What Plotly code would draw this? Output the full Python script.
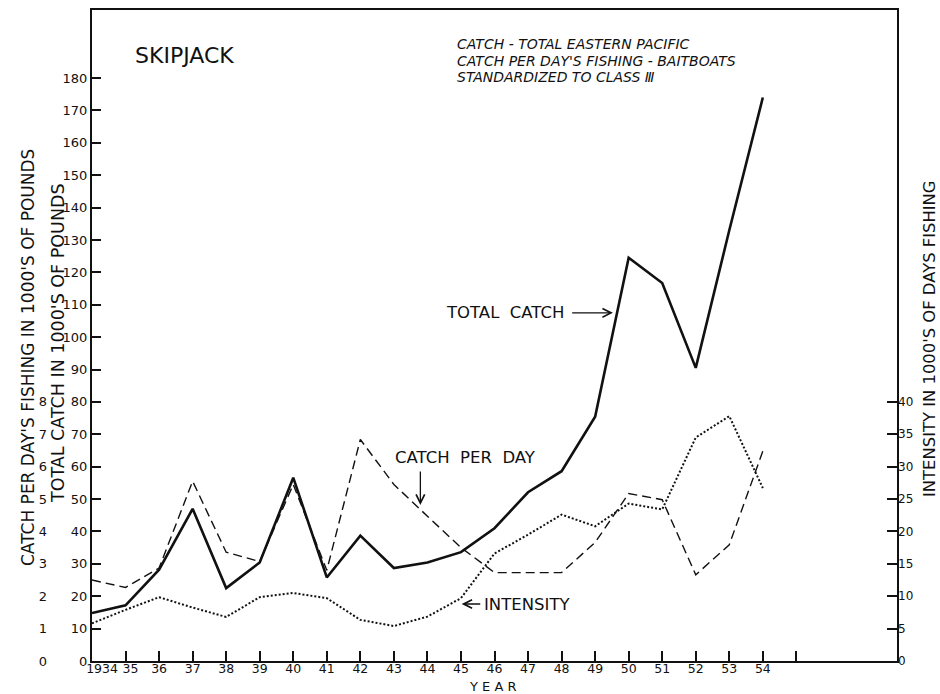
import plotly.graph_objects as go

# ---- data -------------------------------------------------------------
years = list(range(1934, 1955))

# total eastern Pacific skipjack catch, 1000's of pounds
total_catch = [14.8, 17.2, 28.2, 47.0, 22.5, 30.4, 56.6, 25.8, 38.7, 28.7,
               30.4, 33.6, 41.0, 52.1, 58.6, 75.4, 124.5, 116.7, 90.5, 133.0,
               174.0]

# catch per day's fishing (baitboats, standardized to class III), 1000's of pounds
catch_per_day = [2.50, 2.27, 2.87, 5.55, 3.36, 3.07, 5.45, 2.80, 6.84, 5.45,
                 4.47, 3.50, 2.73, 2.73, 2.73, 3.66, 5.17, 4.98, 2.66, 3.59,
                 6.48]

# fishing intensity, 1000's of days fishing
intensity = [5.8, 7.9, 9.85, 8.25, 6.8, 9.85, 10.5, 9.7, 6.35, 5.4,
             6.85, 9.7, 16.6, 19.5, 22.6, 20.8, 24.3, 23.4, 34.5, 37.8,
             26.7]

year_ticks = list(range(1934, 1956))
year_labels = ["1934"] + [str(y)[2:] for y in range(1935, 1955)]
# the first two year labels sit a little right of their ticks, clear of the origin
year_label_pos = [1934.3, 1935.15] + list(range(1936, 1955))
catch_ticks = list(range(0, 181, 10))
cpd_ticks = list(range(0, 9))
intensity_ticks = list(range(0, 41, 5))

FONT = "DejaVu Sans"
INK = "#111111"

fig = go.Figure()

fig.add_trace(go.Scatter(
    x=years, y=total_catch, mode="lines", yaxis="y",
    line=dict(color=INK, width=2.6), hoverinfo="skip"))
fig.add_trace(go.Scatter(
    x=years, y=catch_per_day, mode="lines", yaxis="y2",
    line=dict(color=INK, width=1.4, dash="9px,5px"), hoverinfo="skip"))
fig.add_trace(go.Scatter(
    x=years, y=intensity, mode="lines", yaxis="y3",
    line=dict(color=INK, width=2.0, dash="2px,2px"), hoverinfo="skip"))
# empty trace that brings the year-label axis into being
fig.add_trace(go.Scatter(
    x=[], y=[], xaxis="x2", yaxis="y", mode="lines", hoverinfo="skip"))

W, H = 940, 694
ML, MR, MT, MB = 20, 43, 10, 33
PW = W - ML - MR
PH = H - MT - MB


def px(xp):
    return (xp - ML) / PW


def py(yp):
    return (H - MB - yp) / PH


XRANGE = [1934, 1958]

fig.update_layout(
    template="none",
    width=W, height=H,
    margin=dict(l=ML, r=MR, t=MT, b=MB, pad=0, autoexpand=False),
    paper_bgcolor="white", plot_bgcolor="white",
    showlegend=False,
    font=dict(family=FONT, color=INK),
    xaxis=dict(
        domain=[px(92), 1], range=XRANGE, automargin=False,
        tickvals=year_ticks, showticklabels=False,
        ticks="inside", ticklen=10, tickwidth=1.5, tickcolor=INK,
        showline=True, linewidth=2.2, linecolor=INK, mirror=True,
        showgrid=False, zeroline=False),
    # label-only axis for the year numbers
    xaxis2=dict(
        overlaying="x", anchor="y", side="bottom", range=XRANGE,
        automargin=False, tickvals=year_label_pos, ticktext=year_labels,
        ticks="", showline=False, showgrid=False, zeroline=False,
        ticklabelstandoff=-2,
        tickfont=dict(size=12.5, family=FONT, color=INK)),
    yaxis=dict(
        range=[0, 201], tickvals=catch_ticks, automargin=False,
        ticks="inside", ticklen=9, tickwidth=1.8, tickcolor=INK,
        ticklabelstandoff=0,
        showline=True, linewidth=2.2, linecolor=INK, mirror=True,
        showgrid=False, zeroline=False,
        tickfont=dict(size=13, family=FONT, color=INK)),
    yaxis2=dict(
        range=[0, 20.1], tickvals=cpd_ticks, overlaying="y",
        anchor="free", position=px(47), side="left", automargin=False,
        ticks="", showline=False, showgrid=False, zeroline=False,
        tickfont=dict(size=13, family=FONT, color=INK)),
    yaxis3=dict(
        range=[0, 100.5], tickvals=intensity_ticks, overlaying="y",
        anchor="x", side="right", automargin=False,
        ticks="inside", ticklen=10, tickwidth=1.5, tickcolor=INK,
        showline=False, showgrid=False, zeroline=False,
        tickfont=dict(size=12, family=FONT, color=INK)),
)

ann = []
# axis titles
ann.append(dict(text="CATCH PER DAY'S FISHING IN 1000'S OF POUNDS",
                x=px(28), y=py(358), textangle=-90,
                font=dict(size=17)))
ann.append(dict(text="TOTAL CATCH IN 1000'S OF POUNDS",
                x=px(58), y=py(343), textangle=-90,
                font=dict(size=17.5)))
ann.append(dict(text="INTENSITY IN 1000'S OF DAYS FISHING",
                x=px(929), y=py(338), textangle=-90,
                font=dict(size=16.4)))
ann.append(dict(text="Y E A R", x=px(492), y=py(686.5), font=dict(size=13)))
for a in ann:
    a.update(xref="paper", yref="paper", showarrow=False,
             xanchor="center", yanchor="middle")

# heading block
heading = [
    dict(text="SKIPJACK", x=px(133), y=py(55), font=dict(size=22)),
    dict(text="<i>CATCH - TOTAL EASTERN PACIFIC</i>", x=px(455), y=py(44),
         font=dict(size=14)),
    dict(text="<i>CATCH PER DAY'S FISHING - BAITBOATS</i>", x=px(455),
         y=py(61), font=dict(size=14)),
    dict(text="<i>STANDARDIZED TO CLASS Ⅲ</i>", x=px(455), y=py(77),
         font=dict(size=14)),
]
for a in heading:
    a.update(xref="paper", yref="paper", showarrow=False,
             xanchor="left", yanchor="middle")
ann += heading

# series labels (data coordinates)
series_labels = [
    dict(text="TOTAL  CATCH", x=1948.12, y=107.5, xanchor="right"),
    dict(text="CATCH  PER  DAY", x=1945.14, y=62.7, xanchor="center"),
    dict(text="INTENSITY", x=1945.62, y=17.6, xanchor="left"),
]
for a in series_labels:
    a.update(xref="x", yref="y", showarrow=False, yanchor="middle",
             font=dict(size=16.5))
ann += series_labels

# pointer arrows (head at x, y; tail at ax, ay)
arrows = [
    dict(x=1949.53, y=107.5, ax=1948.27, ay=107.5),
    dict(x=1943.79, y=48.2, ax=1943.79, ay=59.0),
    dict(x=1945.02, y=17.6, ax=1945.62, ay=17.6),
]
for a in arrows:
    a.update(xref="x", yref="y", axref="x", ayref="y", text="",
             showarrow=True, arrowhead=5, arrowsize=1.3, arrowwidth=1.3,
             arrowcolor=INK, standoff=0, startstandoff=0)
ann += arrows

fig.update_layout(annotations=ann)

fig.write_html("out.html")
